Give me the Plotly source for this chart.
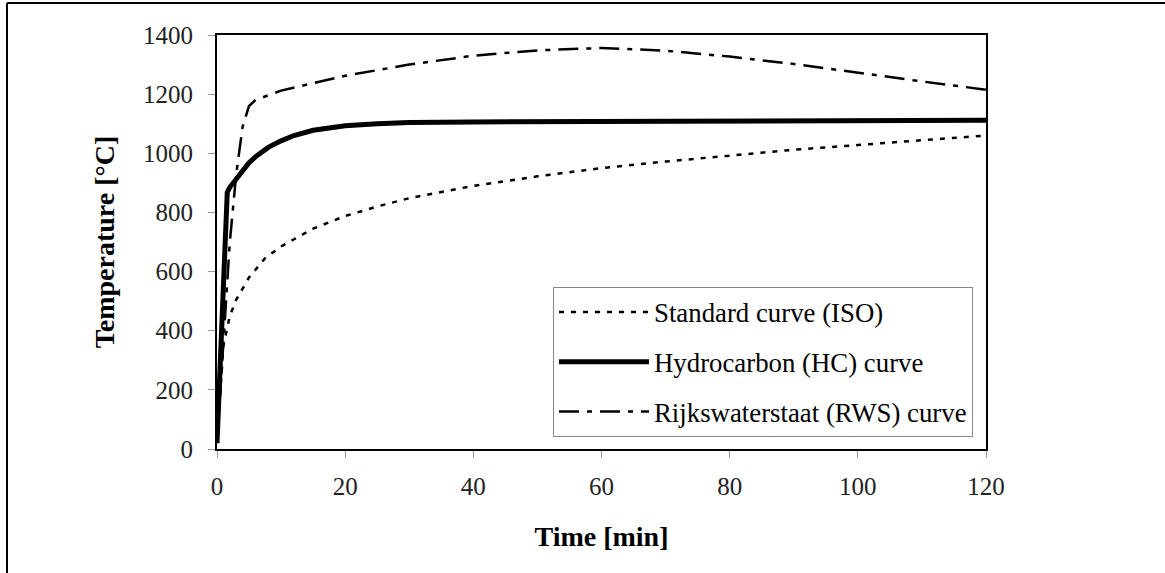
import plotly.graph_objects as go

# ---- data ----
iso_t = [0, 1, 2, 3, 5, 7.5, 10, 15, 20, 25, 30, 40, 50, 60, 70, 80, 90, 100, 110, 120]
iso_T = [20, 350, 450, 505, 580, 645, 685, 745, 788, 820, 848, 890, 922, 950, 972, 993, 1012, 1028, 1045, 1060]

hc_t = [0, 0.5, 1, 1.6, 2, 3, 4, 5, 6, 8, 10, 12, 15, 20, 25, 30, 40, 60, 90, 120]
hc_T = [20, 320, 600, 868, 885, 915, 945, 968, 988, 1020, 1042, 1060, 1078, 1093, 1100, 1104, 1106, 1108, 1110, 1112]

rws_t = [0, 1, 2, 3, 4, 5, 6, 10, 20, 30, 40, 50, 60, 70, 80, 90, 100, 110, 120]
rws_T = [20, 350, 700, 930, 1090, 1160, 1180, 1212, 1262, 1300, 1330, 1348, 1356, 1347, 1327, 1302, 1272, 1243, 1215]

x_ticks = [0, 20, 40, 60, 80, 100, 120]
y_ticks = [0, 200, 400, 600, 800, 1000, 1200, 1400]

names = ["Standard curve (ISO)", "Hydrocarbon (HC) curve", "Rijkswaterstaat (RWS) curve"]

SERIF = "Liberation Serif, Times New Roman, serif"

fig = go.Figure()
fig.add_trace(go.Scatter(x=iso_t, y=iso_T, mode="lines", name=names[0], legendgroup="a",
                         line=dict(color="black", width=2.5, dash="5px,7px")))
fig.add_trace(go.Scatter(x=hc_t, y=hc_T, mode="lines", name=names[1], legendgroup="b",
                         line=dict(color="black", width=5)))
fig.add_trace(go.Scatter(x=rws_t, y=rws_T, mode="lines", name=names[2], legendgroup="c",
                         line=dict(color="black", width=2.5, dash="20px,8px,5px,8px")))

L, R, T, B = 217, 1165 - 986, 35, 573 - 449
W = 1165 - L - R
H = 573 - T - B

fig.update_layout(
    width=1165, height=573,
    margin=dict(l=L, r=R, t=T, b=B, pad=0),
    paper_bgcolor="white", plot_bgcolor="white",
    font=dict(family=SERIF, color="black", size=25),
    showlegend=True,
    legend=dict(x=(553 - L) / W, y=(449 - 287) / H, xanchor="left", yanchor="top",
                bgcolor="white", bordercolor="#888888", borderwidth=1,
                font=dict(family=SERIF, size=26.8, color="black"),
                tracegroupgap=12, itemwidth=90, traceorder="grouped"),
    xaxis=dict(range=[0, 120], tickvals=x_ticks, ticks="outside", ticklen=7, tickcolor="#999999",
               tickwidth=1, showline=True, linecolor="black", linewidth=2, mirror=True,
               showgrid=False, zeroline=False, ticklabelstandoff=7,
               tickfont=dict(family=SERIF, size=25, color="#222222"),
               title=dict(text="<b>Time [min]</b>", font=dict(family=SERIF, size=28), standoff=27)),
    yaxis=dict(range=[0, 1400], tickvals=y_ticks, ticks="outside", ticklen=7, tickcolor="#999999",
               tickwidth=1, showline=True, linecolor="black", linewidth=2, mirror=True,
               showgrid=False, zeroline=False, ticklabelstandoff=10,
               tickfont=dict(family=SERIF, size=25, color="#222222"),
               title=dict(text="<b>Temperature [°C]</b>", font=dict(family=SERIF, size=28), standoff=20)),
    shapes=[
        dict(type="line", xref="paper", yref="paper",
             x0=(7 - L) / W, x1=(1165 - L) / W, y0=(449 - 3) / H, y1=(449 - 3) / H,
             line=dict(color="black", width=2)),
        dict(type="line", xref="paper", yref="paper",
             x0=(7 - L) / W, x1=(7 - L) / W, y0=(449 - 3) / H, y1=(449 - 573) / H,
             line=dict(color="black", width=2)),
    ],
)

fig.write_html("out.html", config={"displayModeBar": False},
               post_script="document.body.style.margin='0px';document.body.style.padding='0px';")
